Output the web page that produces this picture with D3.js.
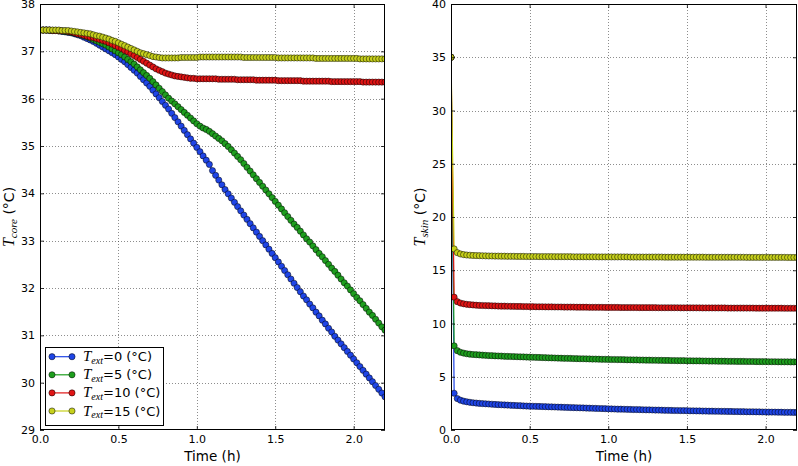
<!DOCTYPE html>
<html><head><meta charset="utf-8">
<script src="https://cdn.jsdelivr.net/npm/d3@7/dist/d3.min.js"></script>
<style>body{margin:0;background:#fff}svg{display:block}</style>
</head><body>
<script>
// ---------------- DATA ----------------
const times = [0,0.02,0.04,0.06,0.08,0.1,0.12,0.14,0.16,0.18,
0.2,0.22,0.24,0.26,0.28,0.3,0.32,0.34,0.36,0.38,
0.4,0.42,0.44,0.46,0.48,0.5,0.52,0.54,0.56,0.58,
0.6,0.62,0.64,0.66,0.68,0.7,0.72,0.74,0.76,0.78,
0.8,0.82,0.84,0.86,0.88,0.9,0.92,0.94,0.96,0.98,
1.0,1.02,1.04,1.06,1.08,1.1,1.12,1.14,1.16,1.18,
1.2,1.22,1.24,1.26,1.28,1.3,1.32,1.34,1.36,1.38,
1.4,1.42,1.44,1.46,1.48,1.5,1.52,1.54,1.56,1.58,
1.6,1.62,1.64,1.66,1.68,1.7,1.72,1.74,1.76,1.78,
1.8,1.82,1.84,1.86,1.88,1.9,1.92,1.94,1.96,1.98,
2.0,2.02,2.04,2.06,2.08,2.1,2.12,2.14,2.16,2.18,
2.2];

const textLabels = ["0","5","10","15"];

const coreT0 = [37.45,37.45,37.45,37.44,37.44,37.44,37.43,37.42,37.41,37.40,
37.39,37.37,37.35,37.33,37.30,37.27,37.24,37.21,37.17,37.13,
37.09,37.05,37.01,36.97,36.93,36.88,36.83,36.78,36.72,36.66,
36.60,36.54,36.47,36.40,36.33,36.26,36.18,36.10,36.02,35.94,
35.86,35.78,35.69,35.60,35.51,35.42,35.33,35.24,35.15,35.06,
34.97,34.88,34.79,34.70,34.61,34.48,34.38,34.28,34.18,34.08,
33.99,33.90,33.81,33.72,33.63,33.54,33.45,33.36,33.27,33.18,
33.09,33.00,32.91,32.82,32.73,32.64,32.55,32.46,32.37,32.28,
32.19,32.10,32.01,31.92,31.83,31.75,31.66,31.58,31.49,31.41,
31.32,31.24,31.15,31.07,30.98,30.90,30.82,30.74,30.66,30.58,
30.50,30.42,30.34,30.26,30.18,30.10,30.02,29.94,29.86,29.78,
29.70];

const coreT5 = [37.45,37.45,37.45,37.45,37.44,37.44,37.43,37.43,37.42,37.41,
37.40,37.39,37.37,37.35,37.33,37.31,37.28,37.25,37.22,37.19,
37.16,37.13,37.09,37.05,37.01,36.97,36.93,36.88,36.83,36.78,
36.73,36.67,36.61,36.55,36.49,36.43,36.36,36.29,36.22,36.15,
36.08,36.01,35.95,35.89,35.83,35.77,35.71,35.65,35.59,35.53,
35.47,35.42,35.38,35.35,35.31,35.26,35.21,35.16,35.11,35.05,
34.99,34.92,34.85,34.78,34.71,34.63,34.55,34.47,34.39,34.31,
34.23,34.15,34.07,33.99,33.91,33.83,33.75,33.67,33.59,33.51,
33.43,33.35,33.28,33.20,33.12,33.04,32.97,32.89,32.81,32.73,
32.66,32.58,32.50,32.42,32.35,32.27,32.19,32.11,32.04,31.96,
31.88,31.80,31.73,31.65,31.57,31.49,31.42,31.34,31.26,31.18,
31.11];

const coreT10 = [37.45,37.45,37.45,37.45,37.44,37.44,37.44,37.43,37.43,37.42,
37.41,37.39,37.37,37.36,37.34,37.32,37.30,37.29,37.27,37.25,
37.23,37.21,37.18,37.15,37.12,37.09,37.06,37.02,36.99,36.95,
36.91,36.87,36.83,36.79,36.75,36.71,36.67,36.63,36.60,36.57,
36.54,36.52,36.50,36.48,36.47,36.46,36.45,36.44,36.43,36.43,
36.42,36.42,36.42,36.42,36.42,36.42,36.42,36.41,36.41,36.41,
36.41,36.41,36.41,36.40,36.40,36.40,36.40,36.40,36.40,36.39,
36.39,36.39,36.39,36.39,36.39,36.39,36.38,36.38,36.38,36.38,
36.38,36.38,36.38,36.38,36.37,36.37,36.37,36.37,36.37,36.37,
36.37,36.37,36.37,36.36,36.36,36.36,36.36,36.36,36.36,36.36,
36.36,36.36,36.36,36.35,36.35,36.35,36.35,36.35,36.35,36.35,
36.35];

const coreT15 = [37.45,37.45,37.45,37.45,37.45,37.45,37.45,37.44,37.44,37.44,
37.43,37.42,37.41,37.40,37.39,37.38,37.37,37.35,37.33,37.32,
37.30,37.28,37.26,37.23,37.21,37.18,37.15,37.12,37.09,37.06,
37.03,37.00,36.97,36.95,36.93,36.91,36.89,36.88,36.87,36.86,
36.86,36.86,36.86,36.86,36.86,36.87,36.87,36.87,36.87,36.87,
36.87,36.88,36.88,36.88,36.88,36.88,36.88,36.88,36.88,36.88,
36.88,36.88,36.88,36.88,36.88,36.87,36.87,36.87,36.87,36.87,
36.87,36.87,36.87,36.87,36.87,36.87,36.86,36.86,36.86,36.86,
36.86,36.86,36.86,36.86,36.86,36.86,36.86,36.86,36.85,36.85,
36.85,36.85,36.85,36.85,36.85,36.85,36.85,36.85,36.85,36.85,
36.85,36.85,36.84,36.84,36.84,36.84,36.84,36.84,36.84,36.84,
36.84];

const skinT0 = [35.00,3.45,2.95,2.80,2.71,2.65,2.60,2.56,2.53,2.50,
2.48,2.46,2.44,2.42,2.40,2.38,2.37,2.35,2.34,2.32,
2.31,2.29,2.28,2.26,2.25,2.24,2.23,2.22,2.21,2.20,
2.19,2.18,2.17,2.16,2.15,2.14,2.13,2.12,2.11,2.10,
2.09,2.08,2.07,2.06,2.05,2.04,2.03,2.02,2.01,2.00,
1.99,1.98,1.97,1.96,1.96,1.95,1.94,1.93,1.92,1.92,
1.91,1.90,1.89,1.89,1.88,1.87,1.87,1.86,1.85,1.85,
1.84,1.83,1.83,1.82,1.82,1.81,1.80,1.80,1.79,1.79,
1.78,1.78,1.77,1.77,1.76,1.76,1.75,1.75,1.74,1.74,
1.73,1.73,1.72,1.72,1.71,1.71,1.71,1.70,1.70,1.69,
1.69,1.68,1.68,1.68,1.67,1.67,1.66,1.66,1.66,1.65,
1.65];

const skinT5 = [35.00,7.90,7.45,7.30,7.22,7.16,7.12,7.09,7.07,7.05,
7.03,7.01,6.99,6.98,6.96,6.95,6.94,6.92,6.91,6.90,
6.89,6.88,6.87,6.86,6.85,6.84,6.83,6.82,6.81,6.80,
6.79,6.78,6.77,6.76,6.75,6.74,6.73,6.73,6.72,6.71,
6.70,6.69,6.69,6.68,6.67,6.66,6.66,6.65,6.64,6.64,
6.63,6.62,6.62,6.61,6.61,6.60,6.59,6.59,6.58,6.58,
6.57,6.57,6.56,6.56,6.55,6.55,6.54,6.54,6.53,6.53,
6.52,6.52,6.51,6.51,6.51,6.50,6.50,6.49,6.49,6.49,
6.48,6.48,6.47,6.47,6.47,6.46,6.46,6.46,6.45,6.45,
6.45,6.44,6.44,6.44,6.43,6.43,6.43,6.42,6.42,6.42,
6.42,6.41,6.41,6.41,6.40,6.40,6.40,6.40,6.39,6.39,
6.39];

const skinT10 = [35.00,12.47,12.05,11.92,11.85,11.80,11.77,11.74,11.72,11.70,
11.69,11.68,11.67,11.66,11.65,11.64,11.63,11.63,11.62,11.61,
11.61,11.60,11.60,11.59,11.59,11.58,11.58,11.57,11.57,11.57,
11.56,11.56,11.56,11.55,11.55,11.55,11.54,11.54,11.54,11.54,
11.53,11.53,11.53,11.53,11.52,11.52,11.52,11.52,11.52,11.51,
11.51,11.51,11.51,11.51,11.50,11.50,11.50,11.50,11.50,11.50,
11.49,11.49,11.49,11.49,11.49,11.49,11.48,11.48,11.48,11.48,
11.48,11.48,11.48,11.47,11.47,11.47,11.47,11.47,11.47,11.47,
11.46,11.46,11.46,11.46,11.46,11.46,11.46,11.46,11.45,11.45,
11.45,11.45,11.45,11.45,11.45,11.45,11.45,11.44,11.44,11.44,
11.44,11.44,11.44,11.44,11.44,11.44,11.43,11.43,11.43,11.43,
11.43];

const skinT15 = [35.00,17.00,16.65,16.53,16.47,16.43,16.41,16.39,16.38,16.37,
16.36,16.35,16.34,16.34,16.33,16.33,16.32,16.32,16.31,16.31,
16.31,16.30,16.30,16.30,16.29,16.29,16.29,16.29,16.28,16.28,
16.28,16.28,16.28,16.27,16.27,16.27,16.27,16.27,16.27,16.26,
16.26,16.26,16.26,16.26,16.26,16.26,16.26,16.25,16.25,16.25,
16.25,16.25,16.25,16.25,16.25,16.25,16.25,16.24,16.24,16.24,
16.24,16.24,16.24,16.24,16.24,16.24,16.24,16.24,16.23,16.23,
16.23,16.23,16.23,16.23,16.23,16.23,16.23,16.23,16.23,16.23,
16.23,16.22,16.22,16.22,16.22,16.22,16.22,16.22,16.22,16.22,
16.22,16.22,16.22,16.22,16.21,16.21,16.21,16.21,16.21,16.21,
16.21,16.21,16.21,16.21,16.21,16.21,16.21,16.20,16.20,16.20,
16.20];

const xTicks = [0, 0.5, 1.0, 1.5, 2.0];
const coreTicks = [29,30,31,32,33,34,35,36,37,38];
const skinTicks = [0,5,10,15,20,25,30,35,40];
const colors = ["#1f45e6","#1e9e1e","#e01414","#c6d01c"];

// ---------------- DRAW ----------------
const W = 798, H = 466;
const svg = d3.select("body").append("svg").attr("width", W).attr("height", H)
  .style("font-family", "'DejaVu Sans', sans-serif");

const coreSeries = [coreT0, coreT5, coreT10, coreT15];
const skinSeries = [skinT0, skinT5, skinT10, skinT15];

function panel(id, x0, x1, y0, y1, yDomain, yTicks, series, sub, ylabX) {
  const x = d3.scaleLinear().domain([0, 2.2]).range([x0, x1]);
  const y = d3.scaleLinear().domain(yDomain).range([y1, y0]);
  const g = svg.append("g");

  svg.append("clipPath").attr("id", id).append("rect")
    .attr("x", x0).attr("y", y0).attr("width", x1 - x0).attr("height", y1 - y0);

  // grid
  const grid = g.append("g").attr("stroke", "#000").attr("stroke-width", 0.6)
    .attr("stroke-dasharray", "1,2").attr("opacity", 0.75);
  grid.selectAll(".gx").data(xTicks.filter(d => d > 0)).join("line")
    .attr("x1", d => Math.round(x(d)) + 0.5).attr("x2", d => Math.round(x(d)) + 0.5)
    .attr("y1", y0).attr("y2", y1);
  grid.selectAll(".gy").data(yTicks.slice(1, -1)).join("line")
    .attr("y1", d => Math.round(y(d)) + 0.5).attr("y2", d => Math.round(y(d)) + 0.5)
    .attr("x1", x0).attr("x2", x1);

  // data
  const line = d3.line().x((d, i) => x(times[i])).y(d => y(d));
  const dg = g.append("g").attr("clip-path", `url(#${id})`);
  series.forEach((s, k) => {
    dg.append("path").datum(s).attr("d", line).attr("fill", "none")
      .attr("stroke", colors[k]).attr("stroke-width", 1.2);
    dg.append("g").selectAll("circle").data(s).join("circle")
      .attr("cx", (d, i) => x(times[i])).attr("cy", d => y(d)).attr("r", 3.1)
      .attr("fill", colors[k]).attr("stroke", "#000").attr("stroke-width", 0.5);
  });

  // axes
  const fmt = d3.format(".1f");
  const ax = [
    g.append("g").attr("transform", `translate(0,${y1})`).call(d3.axisBottom(x).tickValues(xTicks).tickFormat(fmt).tickSize(-4).tickPadding(5)),
    g.append("g").attr("transform", `translate(0,${y0})`).call(d3.axisTop(x).tickValues(xTicks).tickFormat("").tickSize(-4)),
    g.append("g").attr("transform", `translate(${x0},0)`).call(d3.axisLeft(y).tickValues(yTicks).tickFormat(d3.format("d")).tickSize(-4).tickPadding(5)),
    g.append("g").attr("transform", `translate(${x1},0)`).call(d3.axisRight(y).tickValues(yTicks).tickFormat("").tickSize(-4))
  ];
  ax.forEach(a => {
    a.select(".domain").remove();
    a.selectAll("line").attr("stroke", "#000").attr("stroke-width", 0.8);
    a.selectAll("text").attr("font-size", 11).attr("fill", "#000")
      .attr("font-family", "'DejaVu Sans', sans-serif");
  });

  g.append("rect").attr("x", x0 + 0.5).attr("y", y0 + 0.5)
    .attr("width", x1 - x0 - 1).attr("height", y1 - y0 - 1)
    .attr("fill", "none").attr("stroke", "#000").attr("stroke-width", 1);

  // x label
  g.append("text").attr("x", (x0 + x1) / 2).attr("y", 461).attr("text-anchor", "middle")
    .attr("font-size", 13.5).text("Time (h)");

  // y label
  const cy = (y0 + y1) / 2;
  const yl = g.append("text").attr("transform", `translate(${ylabX},${cy}) rotate(-90)`)
    .attr("text-anchor", "middle").attr("font-size", 14);
  yl.append("tspan").attr("font-family", "'Liberation Serif', serif").attr("font-style", "italic")
    .attr("font-size", 16).text("T");
  yl.append("tspan").attr("font-family", "'Liberation Serif', serif").attr("font-style", "italic")
    .attr("font-size", 11).attr("dy", 3).text(sub);
  yl.append("tspan").attr("dy", -3).text(" (\u00B0C)");
  return {x, y};
}

panel("clipL", 40, 385, 4, 430, [29, 38], coreTicks, coreSeries, "core", 14);
panel("clipR", 451, 797, 4, 430, [0, 40], skinTicks, skinSeries, "skin", 425);

// legend
const lg = svg.append("g");
lg.append("rect").attr("x", 45.5).attr("y", 347.5).attr("width", 118).attr("height", 78)
  .attr("fill", "#fff").attr("stroke", "#000").attr("stroke-width", 1);
textLabels.forEach((lab, k) => {
  const yy = 356.7 + k * 18.1;
  lg.append("line").attr("x1", 52).attr("x2", 72).attr("y1", yy).attr("y2", yy)
    .attr("stroke", colors[k]).attr("stroke-width", 1.2);
  [52, 72].forEach(cx => lg.append("circle").attr("cx", cx).attr("cy", yy).attr("r", 3.1)
    .attr("fill", colors[k]).attr("stroke", "#000").attr("stroke-width", 0.5));
  const t = lg.append("text").attr("x", 83).attr("y", yy + 4.5).attr("font-size", 13);
  t.append("tspan").attr("font-family", "'Liberation Serif', serif").attr("font-style", "italic")
    .attr("font-size", 15).text("T");
  t.append("tspan").attr("font-family", "'Liberation Serif', serif").attr("font-style", "italic")
    .attr("font-size", 10).attr("dy", 2.5).text("ext");
  t.append("tspan").attr("dy", -2.5).text("=" + lab + " (\u00B0C)");
});
</script>
</body></html>
